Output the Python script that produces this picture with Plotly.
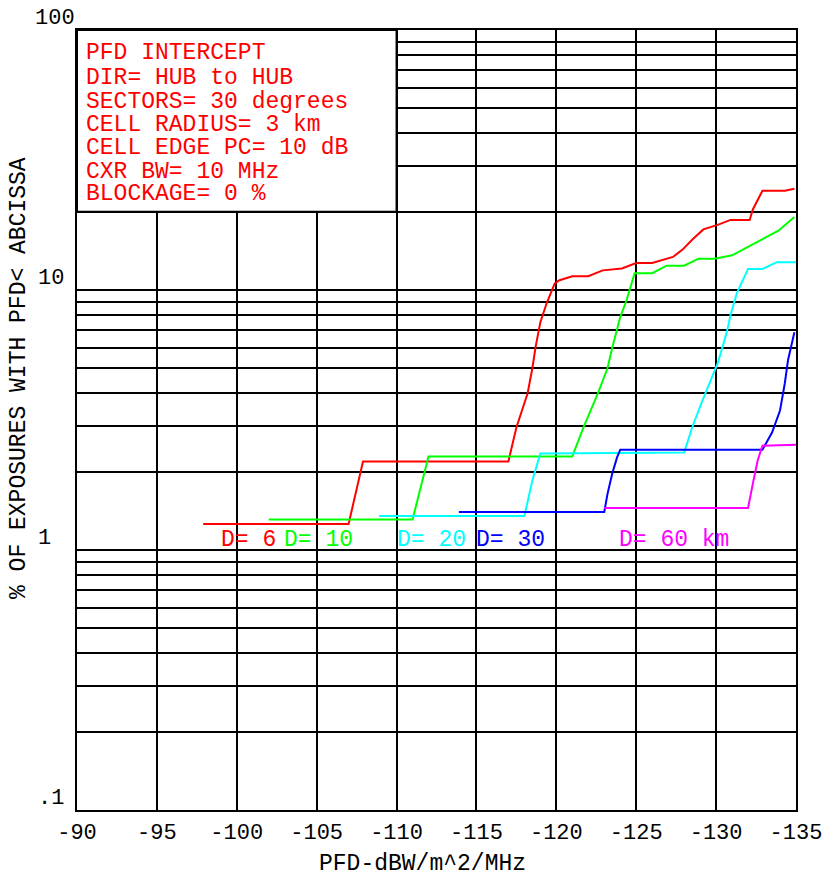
import plotly.graph_objects as go
import math

# ---- data ----
red_x = [-97.9, -107.0, -107.9, -117.0, -117.5, -118.2, -118.5, -118.7, -119.0, -119.4, -119.9, -120.2,
         -121.0, -122.0, -122.9, -124.1, -125.0, -126.0, -127.3, -127.9, -128.5, -129.2, -130.1, -130.9,
         -132.1, -132.3, -132.9, -134.3, -134.9]
red_y = [1.26, 1.26, 2.19, 2.19, 2.96, 4.0, 5.0, 6.03, 7.52, 8.91, 10.6, 10.9,
         11.3, 11.3, 11.9, 12.1, 12.7, 12.7, 13.4, 14.3, 15.6, 17.1, 17.8, 18.6,
         18.6, 20.4, 24.1, 24.1, 24.5]

green_x = [-102.0, -111.0, -112.0, -121.0, -121.7, -122.6, -123.2, -123.5, -124.0, -124.4, -124.9,
           -126.0, -126.9, -128.0, -128.9, -129.9, -131.0, -132.1, -133.2, -133.9, -134.9]
green_y = [1.31, 1.31, 2.29, 2.29, 2.96, 4.0, 5.0, 6.0, 7.87, 9.15, 11.6,
           11.6, 12.4, 12.4, 13.2, 13.2, 13.6, 14.8, 16.0, 16.9, 19.1]

cyan_x = [-108.9, -118.0, -118.5, -119.0, -128.0, -128.5, -129.1, -129.6, -130.1, -130.4, -130.7,
          -130.9, -131.3, -132.0, -132.9, -133.8, -135.0]
cyan_y = [1.35, 1.35, 1.85, 2.35, 2.37, 2.96, 3.70, 4.38, 5.23, 6.03, 7.01,
          8.0, 9.73, 12.05, 12.05, 12.8, 12.8]

blue_x = [-113.9, -123.0, -123.2, -123.5, -123.8, -124.0, -132.9, -133.5, -134.0, -134.3, -134.5,
          -134.7, -134.9]
blue_y = [1.40, 1.40, 1.64, 1.97, 2.27, 2.43, 2.43, 2.83, 3.44, 4.38, 5.37,
          6.03, 6.88]

mag_x = [-123.0, -132.0, -132.3, -132.6, -132.9, -135.0]
mag_y = [1.45, 1.45, 1.80, 2.21, 2.52, 2.54]

series_names = ["D= 6", "D= 10", "D= 20", "D= 30", "D= 60 km"]
series_colors = ["#ff0000", "#00ff00", "#00ffff", "#0000ff", "#ff00ff"]

x_ticks = [-90, -95, -100, -105, -110, -115, -120, -125, -130, -135]
x_tick_text = ["-90", "-95", "-100", "-105", "-110", "-115", "-120", "-125", "-130", "-135"]
y_grid = [m * 10 ** k for k in (-1, 0, 1) for m in range(1, 10)] + [100]
y_tick_labels = [(".1", 0.1), ("1", 1), ("10", 10), ("100", 100)]

info_lines = ["PFD INTERCEPT", "DIR= HUB to HUB", "SECTORS= 30 degrees", "CELL RADIUS= 3 km",
              "CELL EDGE PC= 10 dB", "CXR BW= 10 MHz", "BLOCKAGE= 0 %"]

x_title = "PFD-dBW/m^2/MHz"
y_title = "% OF EXPOSURES WITH PFD< ABCISSA"

# ---- layout geometry (pixels) ----
W, H = 822, 880
L, R, T, B = 77, 796, 30, 810
FONT = "Liberation Mono, DejaVu Sans Mono, monospace"


def px(xp):
    return (xp - L) / (R - L)


def py(yp):
    return (B - yp) / (B - T)


fig = go.Figure()
xs = [red_x, green_x, cyan_x, blue_x, mag_x]
ys = [red_y, green_y, cyan_y, blue_y, mag_y]
for name, col, xx, yy in zip(series_names, series_colors, xs, ys):
    fig.add_trace(go.Scatter(x=xx, y=yy, mode="lines", name=name,
                             line=dict(color=col, width=2), showlegend=False))

annotations = []
# info box text
line_y = [53, 78, 102, 125, 148, 172, 194]
for txt, yy in zip(info_lines, line_y):
    annotations.append(dict(text=txt, xref="paper", yref="paper", x=px(84), y=py(yy),
                            xanchor="left", yanchor="middle", showarrow=False,
                            font=dict(family=FONT, size=23, color="#ff0000")))

# series labels
label_cx = [248, 318, 431, 510, 674]
for name, col, cx in zip(series_names, series_colors, label_cx):
    annotations.append(dict(text=name, xref="paper", yref="paper", x=px(cx), y=py(540),
                            xanchor="center", yanchor="middle", showarrow=False,
                            font=dict(family=FONT, size=23, color=col)))

# y tick labels (drawn above their grid line, left aligned)
for txt, v in y_tick_labels:
    ygrid = B - (math.log10(v) + 1) / 3 * (B - T)
    xl = 33 if txt == "100" else 36
    annotations.append(dict(text=txt, xref="paper", yref="paper", x=px(xl), y=py(ygrid - 12),
                            xanchor="left", yanchor="middle", showarrow=False,
                            font=dict(family=FONT, size=22, color="#000000")))

# axis titles
annotations.append(dict(text=x_title, xref="paper", yref="paper", x=px(422), y=py(864),
                        xanchor="center", yanchor="middle", showarrow=False,
                        font=dict(family=FONT, size=23, color="#000000")))
annotations.append(dict(text=y_title, xref="paper", yref="paper", x=px(19), y=py(378),
                        xanchor="center", yanchor="middle", showarrow=False, textangle=-90,
                        font=dict(family=FONT, size=23, color="#000000")))

fig.update_layout(
    width=W, height=H,
    margin=dict(l=L, r=W - R, t=T, b=H - B, pad=0, autoexpand=False),
    paper_bgcolor="white", plot_bgcolor="white",
    annotations=annotations,
    shapes=[dict(type="rect", xref="x", yref="paper", x0=-90, x1=-110,
                 y0=(math.log10(20) + 1) / 3, y1=1,
                 fillcolor="white", line=dict(color="black", width=2), layer="above")],
    xaxis=dict(range=[-90, -135], tickvals=x_ticks, ticktext=x_tick_text,
               showgrid=True, gridcolor="black", gridwidth=2, zeroline=False,
               showline=True, mirror=True, linecolor="black", linewidth=2,
               ticks="", ticklabelstandoff=1, ticklabeloverflow="allow", automargin=False,
               tickfont=dict(family=FONT, size=22, color="black")),
    yaxis=dict(type="log", range=[-1, 2], tickvals=y_grid, showticklabels=False,
               showgrid=True, gridcolor="black", gridwidth=2, zeroline=False,
               showline=True, mirror=True, linecolor="black", linewidth=2, ticks="",
               automargin=False),
)

fig.write_html("out.html", config={"displayModeBar": False},
               post_script="document.body.style.margin='0';document.body.style.overflow='hidden';")
